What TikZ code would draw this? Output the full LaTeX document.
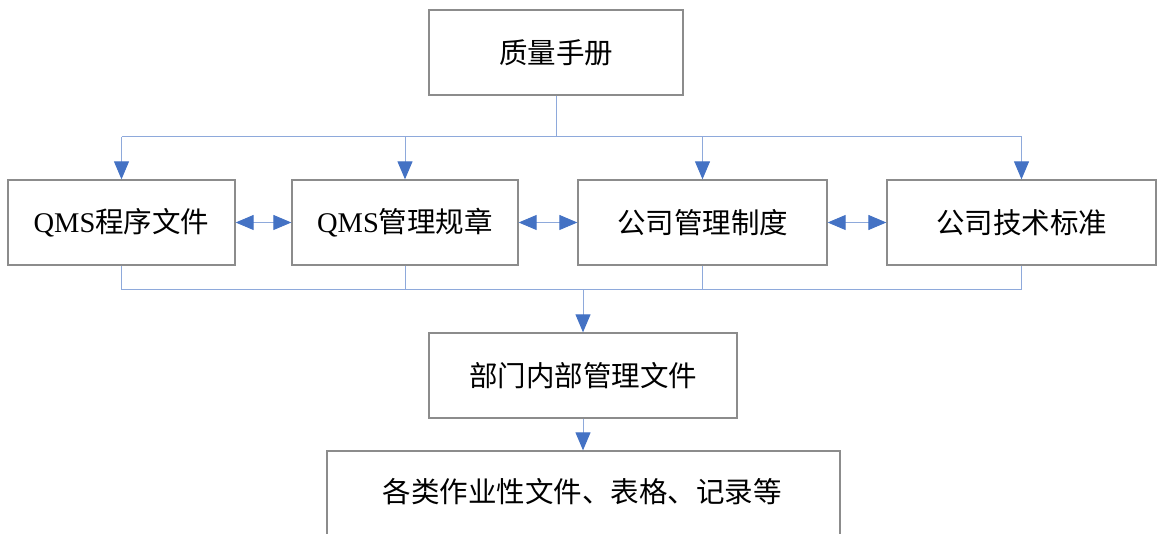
\documentclass[tikz,border=0pt]{standalone}
\usepackage{fontspec}
\setmainfont{Liberation Serif}
\newfontfamily\cjk{Noto Sans CJK SC}
\usetikzlibrary{arrows.meta}
\definecolor{boxgray}{HTML}{8C8C8C}
\definecolor{connblue}{HTML}{8EA9DB}
\definecolor{arrblue}{HTML}{4472C4}
\tikzset{
  box/.style={draw=boxgray, line width=1.3pt, fill=white, inner sep=0pt,
    font=\fontsize{28.5}{31}\selectfont\cjk, text=black},
  conn/.style={draw=connblue, line width=1pt},
  arr/.style={-{Triangle[length=18pt,width=15pt,fill=arrblue,color=arrblue]}},
  darr/.style={{Triangle[length=18pt,width=15pt,fill=arrblue,color=arrblue]}-{Triangle[length=18pt,width=15pt,fill=arrblue,color=arrblue]}},
}
\begin{document}
\begin{tikzpicture}[x=1pt,y=-1pt]
\useasboundingbox (0,0) rectangle (1157,534);
\clip (0,0) rectangle (1157,534);
\node[box, minimum width=254pt, minimum height=85pt] (top) at (556,52.5) {质量手册};
\node[box, minimum width=227pt, minimum height=85pt] (a) at (121.5,222.5) {{\rmfamily QMS}程序文件};
\node[box, minimum width=226pt, minimum height=85pt] (b) at (405,222.5) {{\rmfamily QMS}管理规章};
\node[box, minimum width=249pt, minimum height=85pt] (c) at (702.5,222.5) {公司管理制度};
\node[box, minimum width=269pt, minimum height=85pt] (d) at (1021.5,222.5) {公司技术标准};
\node[box, minimum width=308pt, minimum height=85pt] (e) at (583,375.5) {部门内部管理文件};
\node[box, minimum width=513pt, minimum height=130pt] (f) at (583.5,516) {};
\node[font=\fontsize{28.5}{31}\selectfont\cjk, inner sep=0pt] (ft) at (582,492) {各类作业性文件、表格、记录等};
\coordinate (j1) at (556,137);
\coordinate (j2) at (583,290);
\draw[conn] (top.south) -- (j1);
\draw[conn] (a.north |- j1) -- (d.north |- j1);
\foreach \n in {a,b,c,d} {
  \draw[conn,arr] (\n.north |- j1) -- (\n.north);
  \draw[conn] (\n.south) -- (\n.south |- j2);
}
\draw[conn] (a.south |- j2) -- (d.south |- j2);
\draw[conn,arr] (j2) -- (e.north);
\draw[conn,arr] (e.south) -- (e.south |- f.north);
\draw[conn,darr] (a.east) -- (b.west);
\draw[conn,darr] (b.east) -- (c.west);
\draw[conn,darr] (c.east) -- (d.west);
\end{tikzpicture}
\end{document}
